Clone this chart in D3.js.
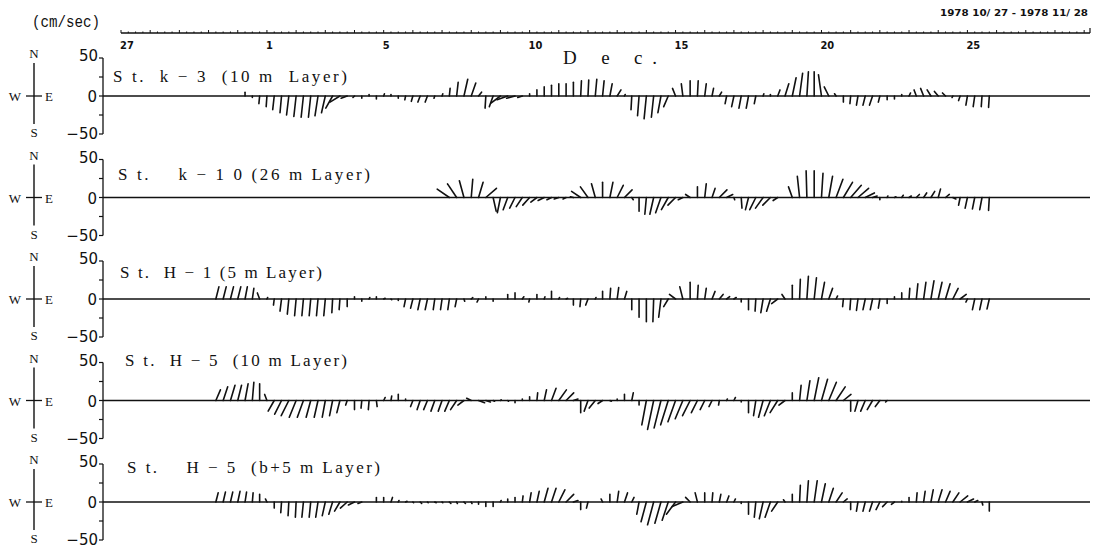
<!DOCTYPE html>
<html>
<head>
<meta charset="utf-8">
<script src="https://cdn.jsdelivr.net/npm/d3@7"></script>
<style>
  body { margin: 0; background: #fff; }
  svg { display: block; }
  text { fill: #111; }
</style>
</head>
<body>
<svg id="chart" width="1099" height="549"></svg>
<script>
// ---- time axis ----------------------------------------------------------
const dayLabels  = ["27", "1", "5", "10", "15", "20", "25"];
const dayOffsets = [0, 5, 9, 14, 19, 24, 29];      // days after the first day
const totalDays  = 33.2;
const samplesPerDay = 4;                            // 6-hourly vectors
const firstSample = 12;                             // index of the first listed sample

// ---- station titles -------------------------------------------------------
const titles = [
  "S t.  k − 3  (10 m  Layer)",
  "S t.    k − 1 0 (26 m Layer)",
  "S t.  H − 1 (5 m Layer)",
  "S t.  H − 5  (10 m Layer)",
  "S t.    H − 5  (b+5 m Layer)"
];

// ---- current vectors, east (U) and north (V) components, cm/sec ----------
// four samples per row group = one day
const k3U = [
   0, 0, 0, 0,    0, 0, 0,-1,   -1,-2,-2,-3,   -3,-3,-3,-4,
  -5,-9,-13,-8,  -2, 0, 0, 0,    1, 0, 0,-1,   -2,-3,-3,-1,
   1, 1, 2, 5,    6, 4,-1,-5,  -12,-14,-11,-6,  0, 0, 0, 0,
   0, 0, 0, 1,    1, 2, 2, 3,    5, 1,-1,-2,   -3,-3,-4,-6,
  -4,-2, 0, 1,    2, 2, 3,-2,   -3,-3,-3,-2,    1, 0, 3, 5,
   5, 4, 2, 0,   -4,-6,-2, 0,   -1,-2,-3,-4,   -2, 0, 0, 0,
   2,-3,-4,-5,   -5,-4,-1,-2,   -2,-2,-1,-1
];
const k3V = [
   0, 0, 0, 0,    0, 5,-2,-10, -14,-18,-22,-25, -27,-28,-28,-26,
 -22,-16,-8,-3,  -2,-3, 2,-4,    3, 2,-3,-5,   -7,-8,-8,-3,
   3,10,18,22,   17, 5,-16,-14, -9,-5,-3,-2,    3, 8,12,14,
  16,16,18,20,   21,22,20,16,    8, 2,-18,-26, -30,-28,-22,-14,
  10,16,20,20,   16,10, 5,-10, -14,-16,-16,-10,  3, 2, 8,16,
  24,30,32,32,   28,12, 3,-8,  -10,-12,-12,-12, -8,-5,-4, 2,
   4, 8,10, 8,    6, 4,-2,-6,  -12,-14,-14,-15
];

const k10U = [
   0, 0, 0, 0,    0, 0, 0, 0,    0, 0, 0, 0,    0, 0, 0, 0,
   0, 0, 0, 0,    0, 0, 0, 0,    0, 0, 0, 0,    0, 0, 0, 0,
   0,-16,-12,-6,  2, 6,14, 4,   -4,-6,-7,-8,   -9,-8,-8,-6,
  -6,-4,-4,-12, -10,-5, 0, 4,    8,10, 2, 0,   -2,-5,-7,-9,
 -10,-6,-6, 0,    2, 4,10, 8,    1, 1,-4,-8,  -10,-10,-6, 0,
  -5,-3,-1, 0,    2, 5, 9,12,   14,14,12, 6,    0, 1, 2, 2,
   3, 4, 4, 5,    3, 5, 4,-2,   -3,-3,-3,-1
];
const k10V = [
   0, 0, 0, 0,    0, 0, 0, 0,    0, 0, 0, 0,    0, 0, 0, 0,
   0, 0, 0, 0,    0, 0, 0, 0,    0, 0, 0, 0,    0, 0, 0, 0,
   0,11,18,22,   24,20,12,-18, -20,-16,-14,-12, -10,-6,-4,-3,
  -2,-2, 1, 8,   14,18,20,20,   16,10,-3,-18, -22,-22,-20,-16,
 -10,-3, 4,14,   18,12,10, 4,   -3,-14,-16,-16, -14,-10,-4, 0,
  14,28,35,35,   32,28,24,20,   16,12, 6, 2,   -3, 2, 1, 3,
   2, 4, 6, 8,   11, 4,-2,-10, -14,-15,-16,-17
];

const h1U = [
   0, 4, 4, 4,    4, 3, 2,-3,    1,-1,-2,-2,   -2,-2,-2,-2,
  -2,-1,-1, 0,    0, 0, 1, 0,    2, 1, 0,-2,   -3,-3,-3,-2,
  -2,-2,-2, 1,    2,-2, 0, 0,    0, 0, 0, 2,   -1, 0, 1, 0,
   1, 2, 0,-1,   -3, 1, 0, 1,    2, 3, 0, 0,    0,-1,-3,-6,
  -8,-4, 0, 1,    2, 4, 5, 4,    3, 0, 0,-1,   -3,-5,-8,-4,
   0, 1, 2, 3,    4, 5, 2,-1,   -1,-2,-3,-3,   -2, 0, 0, 0,
   1, 2, 3, 4,    5, 6, 7, 8,   -2,-3,-3,-3
];
const h1V = [
   0,16,16,16,   16,16,14, 8,    2,-8,-16,-20, -22,-22,-22,-22,
 -22,-18,-14,-10, 3,-3, 2, 3,    1,-1,-2,-10, -12,-14,-14,-14,
 -14,-14,-10,-3,  2,-4, 3,-3,    0, 6, 8, 3,   -4, 6, 3,10,
   2, 1,-8,-10,  -8, 2,10,14,   15,10,-14,-24, -30,-30,-24,-10,
   6,16,22,18,   14,10, 6, 3,    2,-4,-14,-16, -18,-16,-6, 6,
  18,26,30,28,   22,14, 4,-10, -14,-15,-14,-14, -12,-6, 3, 8,
  14,20,22,24,   22,20,14, 6,   -4,-14,-14,-13
];

const h5aU = [
   0, 6, 6, 6,    5, 4, 2, 0,   -3,-8,-9,-10,  -9,-8,-6,-5,
  -4,-4,-4,-2,    0,-1,-1, 1,    2, 1, 0, 0,   -3,-4,-5,-5,
  -5,-6,-8,-8,   -6, 8, 6, 2,    1, 1, 0, 0,    0, 1, 3, 6,
  10,10, 6, 0,   -5,-8,-6, 2,    0, 0, 2, 0,   -6,-8,-9,-10,
 -10,-10,-10,-8, -6,-4,-1, 1,    2, 0, 0,-3,   -6,-8,-10,-8,
   0, 2, 4, 6,    8,10,12,10,    0,-4,-6,-7,   -6,-2, 0, 0,
   0, 0, 0, 0,    0, 0, 0, 0,    0, 0, 0, 0
];
const h5aV = [
   0,14,18,20,   20,22,24,22,    8,-14,-18,-20, -22,-22,-22,-22,
 -22,-20,-16,-6, -12,-10,-12,-8,  4, 6, 8, 2,   -8,-12,-12,-14,
 -14,-14,-12,-6,  3,-3,-2,-1,    1,-1,-3, 2,    5,10,14,16,
  14,10, 2,-16, -14,-10,-4,-1,   2, 8,10,-6,  -32,-38,-36,-32,
 -28,-24,-20,-16, -12,-8,-6, 2,   4,-2,-16,-20, -22,-20,-16,-6,
  10,20,26,30,   28,24,18, 8,  -14,-14,-14,-12, -8,-2, 0, 0,
   0, 0, 0, 0,    0, 0, 0, 0,    0, 0, 0, 0
];

const h5bU = [
   0, 3, 3, 3,    3, 2, 1, 0,   -2, 0,-1,-1,   -1,-2,-2,-3,
  -4,-5,-7,-9,   -8,-5, 0, 0,    0, 2, 1, 2,    1, 2, 1, 2,
   1, 2, 1, 2,    1, 0, 0, 0,    1, 0, 0, 1,    2, 3, 5, 6,
   8,10, 6, 0,   -2, 0,-2, 0,    2, 4, 3,-3,   -7,-8,-8,-8,
 -12,-14,-6,-3,   0, 1, 2, 3,    2, 0, 0,-2,   -5,-7,-8,-2,
   0, 1, 2, 4,    5, 6, 8, 5,    0,-2,-3,-4,   -5,-6,-4, 0,
   0, 1, 2, 3,    5, 6, 8,10,    8, 4, 1, 0
];
const h5bV = [
   0,12,13,13,   14,13,12,10,    4,-8,-14,-18, -20,-20,-20,-20,
 -18,-16,-12,-8,  -4,-2, 0, 6,    6, 6, 2, 1,   -1,-2,-1,-1,
  -1,-2,-2,-2,   -2,-3,-6,-6,    2, 4, 6, 8,   12,14,18,18,
  16,10, 2,-10,  -8, 0, 4,10,   14,12, 6,-16, -26,-30,-28,-24,
 -16,-6, 6,12,   12,12,10, 8,    4,-2,-16,-20, -22,-20,-12, 3,
  10,22,28,28,   24,18,12, 4,  -10,-12,-12,-12, -10,-6,-3, 1,
   6,12,14,16,   16,14,12, 8,    4, 2,-4,-12
];

const stationU = [k3U, k10U, h1U, h5aU, h5bU];
const stationV = [k3V, k10V, h1V, h5aV, h5bV];

// ---- drawing --------------------------------------------------------------
const svg = d3.select("#chart");
const serif = "'Liberation Serif', 'DejaVu Serif', serif";
const narrowBold = "'Liberation Sans Narrow', 'DejaVu Sans Condensed', sans-serif";

const x = d3.scaleLinear().domain([0, totalDays]).range([121, 1090]);

// header texts
svg.append("text")
  .attr("x", 32).attr("y", 27)
  .attr("textLength", 68).attr("lengthAdjust", "spacingAndGlyphs")
  .style("font-family", "'Liberation Mono', 'DejaVu Sans Mono', monospace")
  .style("font-size", "16px")
  .text("(cm/sec)");

svg.append("text")
  .attr("x", 940).attr("y", 16)
  .attr("textLength", 148).attr("lengthAdjust", "spacingAndGlyphs")
  .style("font-family", narrowBold).style("font-weight", "bold")
  .style("font-size", "8px")
  .text("1978 10/ 27 - 1978 11/ 28");

// time axis along the top
const topY = 33;
const timeAxis = svg.append("g");
timeAxis.append("line")
  .attr("x1", x(0)).attr("x2", x(totalDays))
  .attr("y1", topY).attr("y2", topY)
  .attr("stroke", "#111").attr("stroke-width", 1.3);
const sixHourTicks = d3.range(0, Math.floor(totalDays * samplesPerDay) + 1).map(k => k / samplesPerDay);
timeAxis.selectAll("line.tk")
  .data(sixHourTicks)
  .join("line")
  .attr("class", "tk")
  .attr("x1", d => x(d)).attr("x2", d => x(d))
  .attr("y1", topY)
  .attr("y2", d => topY - (Number.isInteger(d) ? 3 : 1.5))
  .attr("stroke", "#111").attr("stroke-width", 1);
timeAxis.append("line")
  .attr("x1", x(totalDays)).attr("x2", x(totalDays))
  .attr("y1", topY).attr("y2", topY - 5)
  .attr("stroke", "#111").attr("stroke-width", 1.2);
timeAxis.selectAll("text")
  .data(dayLabels)
  .join("text")
  .attr("x", (d, i) => x(dayOffsets[i]) - 1)
  .attr("y", 49)
  .style("font-family", narrowBold).style("font-weight", "bold")
  .style("font-size", "11px")
  .text(d => d);

svg.append("text")
  .attr("x", 563).attr("y", 64)
  .attr("textLength", 94).attr("lengthAdjust", "spacing")
  .style("font-family", serif).style("font-size", "19px")
  .text("D e c.");

// one panel per station
const panelTop = 96, panelStep = 101.5, halfHeight = 38;
const titleX     = [113, 118, 120, 125, 127];
const titleWidth = [234, 252, 202, 222, 253];
const titleRise  = [14, 18, 21, 35, 29];

titles.forEach((title, p) => {
  const y0 = panelTop + p * panelStep;
  const y = d3.scaleLinear().domain([-50, 50]).range([y0 + halfHeight, y0 - halfHeight]);
  const g = svg.append("g");

  // compass rose
  const cx = 34;
  g.append("line").attr("x1", cx).attr("x2", cx)
    .attr("y1", y0 - 33).attr("y2", y0 + 28)
    .attr("stroke", "#111").attr("stroke-width", 1.4);
  g.append("line").attr("x1", cx - 8).attr("x2", cx + 8)
    .attr("y1", y0).attr("y2", y0)
    .attr("stroke", "#111").attr("stroke-width", 1.3);
  const comp = [["N", cx, y0 - 38], ["S", cx, y0 + 41], ["W", cx - 19, y0 + 5], ["E", cx + 15, y0 + 5]];
  g.selectAll("text.cmp").data(comp).join("text")
    .attr("class", "cmp")
    .attr("x", d => d[1]).attr("y", d => d[2])
    .attr("text-anchor", "middle")
    .style("font-family", serif).style("font-size", "13px")
    .text(d => d[0]);

  // vertical speed axis
  const axisX = 103;
  g.append("line").attr("x1", axisX).attr("x2", axisX)
    .attr("y1", y(50)).attr("y2", y(-50))
    .attr("stroke", "#111").attr("stroke-width", 1.3);
  g.selectAll("line.yt").data([50, 25, 0, -25, -50]).join("line")
    .attr("class", "yt")
    .attr("x1", axisX - 4).attr("x2", axisX)
    .attr("y1", d => y(d)).attr("y2", d => y(d))
    .attr("stroke", "#111").attr("stroke-width", 1.2);
  g.selectAll("text.yl").data([50, 0, -50]).join("text")
    .attr("class", "yl")
    .attr("x", d => d === 0 ? axisX - 6 : axisX - 5)
    .attr("y", d => d === 0 ? y(d) + 6 : (d > 0 ? y(d) + 3 : y(d) + 5))
    .attr("text-anchor", "end")
    .style("font-family", "'DejaVu Sans', sans-serif").style("font-size", "15px")
    .text(d => d === -50 ? "−50" : String(d));

  // zero line
  g.append("line").attr("x1", axisX).attr("x2", x(totalDays))
    .attr("y1", y0).attr("y2", y0)
    .attr("stroke", "#111").attr("stroke-width", 1.3);

  // station title
  g.append("text")
    .attr("x", titleX[p]).attr("y", y0 - titleRise[p])
    .attr("textLength", titleWidth[p]).attr("lengthAdjust", "spacing")
    .style("font-family", serif).style("font-size", "17px")
    .style("white-space", "pre")
    .text(title);

  // current sticks: base on the zero line, tip at (U, V) in the same scale as the axis
  const U = stationU[p], V = stationV[p];
  const sticks = U.map((u, k) => ({ t: (firstSample + k) / samplesPerDay, u, v: V[k] }))
    .filter(d => d.u !== 0 || d.v !== 0);
  g.selectAll("line.stick").data(sticks).join("line")
    .attr("class", "stick")
    .attr("x1", d => x(d.t)).attr("y1", y(0))
    .attr("x2", d => x(d.t) + (y(0) - y(d.u))).attr("y2", d => y(d.v))
    .attr("stroke", "#111").attr("stroke-width", 1.6)
    .attr("stroke-linecap", "round");
});
</script>
</body>
</html>
